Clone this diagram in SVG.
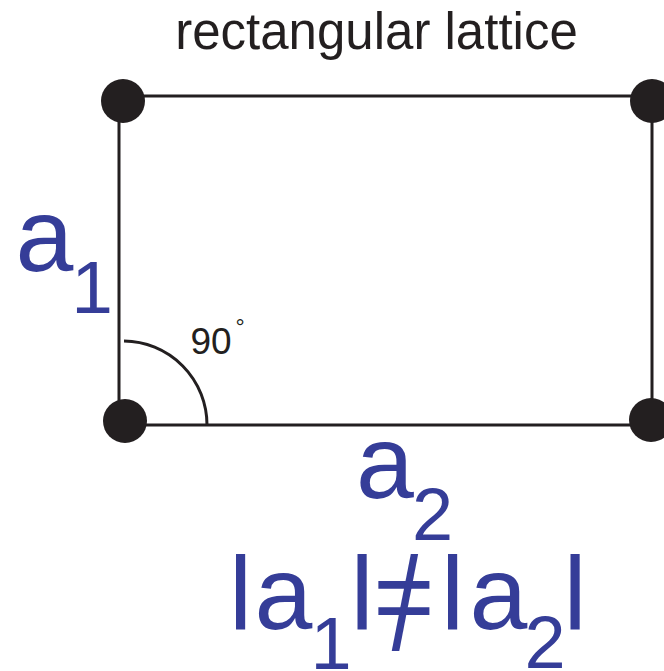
<svg xmlns="http://www.w3.org/2000/svg" width="664" height="671" viewBox="0 0 664 671">
<style>
.ln{fill:none;stroke:#231f20;stroke-width:3}
.dot{fill:#231f20}
.t{font-family:"Liberation Sans",Arial,sans-serif;fill:#231f20}
.b{font-family:"Liberation Sans",Arial,sans-serif;fill:#353d98;text-anchor:middle}
</style>
<rect width="664" height="671" fill="#ffffff"/>
<text class="t" x="376.5" y="49" font-size="51" text-anchor="middle">rectangular lattice</text>
<g id="connectors">
<line class="ln" x1="119" y1="96" x2="652" y2="96"/>
<line class="ln" x1="119" y1="96" x2="119" y2="425"/>
<line class="ln" x1="652" y1="96" x2="652" y2="425"/>
<line class="ln" x1="119" y1="425" x2="652" y2="425"/>
<path class="ln" d="M124 341 A84 84 0 0 1 207 425"/>
</g>
<g id="node-tl"><circle class="dot" cx="123" cy="101" r="22"/></g>
<g id="node-tr"><circle class="dot" cx="652" cy="101" r="22"/></g>
<g id="node-bl"><circle class="dot" cx="125" cy="421" r="22"/></g>
<g id="node-br"><circle class="dot" cx="651" cy="420" r="22"/></g>
<g id="angle">
<text class="t" x="211" y="354" font-size="37" text-anchor="middle">90</text>
<text class="t" x="240" y="335" font-size="23" text-anchor="middle">°</text>
</g>
<g id="label-a1">
<text class="b" x="44.5" y="271" font-size="104">a</text>
<text class="b" x="92" y="313" font-size="75">1</text>
</g>
<g id="label-a2">
<text class="b" x="385" y="498" font-size="104">a</text>
<text class="b" x="432.5" y="540" font-size="74">2</text>
</g>
<g id="formula">
<text class="b" x="240.5" y="629" font-size="104">l</text>
<text class="b" x="283.5" y="629" font-size="104">a</text>
<text class="b" x="331" y="669" font-size="74">1</text>
<text class="b" x="362" y="629" font-size="104">l</text>
<text class="b" x="404" y="633" font-size="105">=</text>
<text class="b" transform="translate(405,650) scale(0.72,1)" x="0" y="0" font-size="132">/</text>
<text class="b" x="452.5" y="629" font-size="104">l</text>
<text class="b" x="498.5" y="629" font-size="104">a</text>
<text class="b" x="545" y="668" font-size="74">2</text>
<text class="b" x="575" y="629" font-size="104">l</text>
</g>
</svg>
